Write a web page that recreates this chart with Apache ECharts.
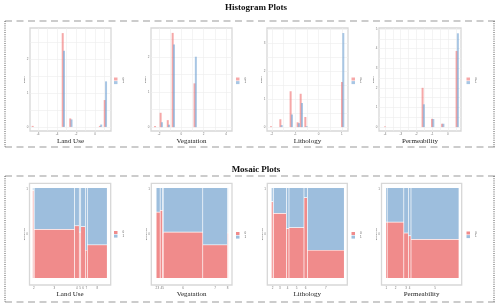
<!DOCTYPE html>
<html><head><meta charset="utf-8">
<script src="https://cdn.jsdelivr.net/npm/echarts@6/dist/echarts.min.js"></script>
<style>html,body{margin:0;padding:0;background:#fff}#c{width:500px;height:307px}</style>
</head><body><div id="c"></div>
<script>
// ---------------- data ----------------
const varNames = ['Land Use', 'Vegatation', 'Lithology', 'Permeability'];
const classNames = ['0', '1'];

// histogram (density) values
const luX = [-6.49, -3.33, -2.54, 0.58, 1.09];
const luRed = [0.03, 2.76, 0.25, 0.03, 0.79];
const luBlue = [0, 2.24, 0.22, 0.07, 1.34];
const vegX = [-2.30, -1.80, -1.16, -0.72, 1.24];
const vegRed = [0.03, 0.41, 0.20, 2.69, 1.25];
const vegBlue = [0, 0.14, 0.07, 2.36, 2.01];
const litX = [-2.01, -1.61, -1.17, -0.87, -0.74, -0.54, 1.03];
const litRed = [0.03, 0.28, 1.28, 0.17, 1.19, 0.36, 1.61];
const litBlue = [0, 0.07, 0.45, 0.14, 0.86, 0.03, 3.36];
const perX = [-3.96, -1.57, -0.97, -0.33, 0.59];
const perRed = [0.03, 2.0, 0.42, 0.17, 3.88];
const perBlue = [0, 1.16, 0.41, 0.17, 4.78];

// histogram tick labels (major) and minor grid values
const luXTicks = [-6, -4, -2, 0];     const luXMinor = [-5, -3, -1, 1];
const vegXTicks = [-2, 0, 2, 4];     const vegXMinor = [-1, 1, 3];
const litXTicks = [-2, -1, 0, 1];    const litXMinor = [-1.5, -0.5, 0.5];
const perXTicks = [-4, -3, -2, -1, 0]; const perXMinor = [-3.5, -2.5, -1.5, -0.5, 0.5];
const luYTicks = [0, 1, 2];          const luYMinor = [0.5, 1.5, 2.5];
const vegYTicks = [0, 1, 2];         const vegYMinor = [0.5, 1.5, 2.5];
const litYTicks = [0, 1, 2, 3];      const litYMinor = [0.5, 1.5, 2.5, 3.5];
const perYTicks = [0, 1, 2, 3, 4, 5]; const perYMinor = [0.5, 1.5, 2.5, 3.5, 4.5];

// mosaic: category labels, column weights, share of class 0
const mLuCats = ['1', '2', '3', '4', '5', '6', '7', '8'];
const mLuW = [0.8, 0.9, 40, 4.8, 1.4, 4.6, 2, 19.8];
const mLuRed = [0.97, 0.97, 0.54, 0.58, 0.51, 0.57, 0.31, 0.37];
const mVegCats = ['1', '2', '3', '4', '5', '6', '7', '8'];
const mVegW = [0.5, 0.5, 3.5, 2.4, 0.8, 39, 24.5, 0.5];
const mVegRed = [0.73, 0.73, 0.73, 0.75, 0.5, 0.51, 0.37, 0.5];
const mLitCats = ['1', '2', '3', '4', '5', '6', '7'];
const mLitW = [0.9, 1.5, 13, 2.6, 15, 3.4, 36.9];
const mLitRed = [0.845, 0.845, 0.717, 0.55, 0.56, 0.89, 0.31];
const mPerCats = ['1', '2', '3', '4', '5'];
const mPerW = [1.5, 16.6, 4.6, 2.6, 48];
const mPerRed = [0.62, 0.62, 0.50, 0.47, 0.43];
const mYTicks = [0.49, 0.985];
const mYLabels = ['0', '1'];

// ---------------- layout / style ----------------
const HR = 'rgba(240,110,110,0.6)', HB = 'rgba(110,160,210,0.6)';
const MR = '#f08b8b', MB = '#9dbedd';
const SERIF = 'Liberation Serif';
const GRIDC = '#ececec';

const hists = [
  { x: luX, r: luRed, b: luBlue, xt: luXTicks, xm: luXMinor, yt: luYTicks, ym: luYMinor, xr: [-6.84, 1.68], yr: [-0.12, 2.91], px: [30, 111], leg: [114, 77.5] },
  { x: vegX, r: vegRed, b: vegBlue, xt: vegXTicks, xm: vegXMinor, yt: vegYTicks, ym: vegYMinor, xr: [-2.72, 4.54], yr: [-0.11, 2.83], px: [151, 232], leg: [236, 77.5] },
  { x: litX, r: litRed, b: litBlue, xt: litXTicks, xm: litXMinor, yt: litYTicks, ym: litYMinor, xr: [-2.21, 1.26], yr: [-0.14, 3.54], px: [267, 348], leg: [351.5, 77.5] },
  { x: perX, r: perRed, b: perBlue, xt: perXTicks, xm: perXMinor, yt: perYTicks, ym: perYMinor, xr: [-4.38, 0.83], yr: [-0.2, 5.05], px: [379, 461], leg: [466.5, 77.5] }
];
const mosaics = [
  { cats: mLuCats, w: mLuW, r: mLuRed, xr: [-0.040, 1.046], px: [29.5, 110.7], leg: [114, 231] },
  { cats: mVegCats, w: mVegW, r: mVegRed, xr: [-0.060, 1.056], px: [151.3, 232], leg: [236, 232] },
  { cats: mLitCats, w: mLitW, r: mLitRed, xr: [-0.050, 1.041], px: [267.3, 347.3], leg: [351.5, 232] },
  { cats: mPerCats, w: mPerW, r: mPerRed, xr: [-0.057, 1.037], px: [381.5, 461.7], leg: [466.5, 231.5] }
];

const grids = [], xAxes = [], yAxes = [], series = [], legends = [];

hists.forEach((h, i) => {
  grids.push({ left: h.px[0], top: 28, width: h.px[1] - h.px[0], height: 103, show: true,
    borderColor: '#d7d7d7', borderWidth: 1.3, backgroundColor: '#fff', containLabel: false, outerBoundsMode: 'none' });
  xAxes.push({ type: 'value', gridIndex: i, min: h.xr[0], max: h.xr[1],
    name: varNames[i], nameLocation: 'middle', nameGap: 6.5, nameMoveOverlap: false,
    nameTextStyle: { fontFamily: SERIF, fontSize: 7, color: '#222' },
    axisLine: { show: false }, axisTick: { show: false, customValues: h.xt.concat(h.xm) },
    axisLabel: { customValues: h.xt, fontSize: 3, color: '#777', margin: 1.5, hideOverlap: false },
    splitLine: { show: true, lineStyle: { color: GRIDC, width: 0.6 } } });
  yAxes.push({ type: 'value', gridIndex: i, min: h.yr[0], max: h.yr[1],
    name: 'density', nameLocation: 'middle', nameGap: 4, nameMoveOverlap: false,
    nameTextStyle: { fontFamily: SERIF, fontSize: 2.5, color: '#444' },
    axisLine: { show: false }, axisTick: { show: false, customValues: h.yt.concat(h.ym) },
    axisLabel: { customValues: h.yt, fontSize: 3, color: '#777', margin: 1.5, hideOverlap: false },
    splitLine: { show: true, lineStyle: { color: GRIDC, width: 0.6 } } });
  series.push({ type: 'bar', name: classNames[0], xAxisIndex: i, yAxisIndex: i, barWidth: 2, barGap: '-35%',
    itemStyle: { color: HR }, data: h.x.map((x, k) => [x, h.r[k]]) });
  series.push({ type: 'bar', name: classNames[1], xAxisIndex: i, yAxisIndex: i, barWidth: 2, barGap: '-35%',
    itemStyle: { color: HB }, data: h.x.map((x, k) => [x, h.b[k]]) });
  legends.push({ data: classNames, left: h.leg[0], top: h.leg[1] });
});

function tileRender(params, api) {
  const p0 = api.coord([api.value(0), api.value(2)]);
  const p1 = api.coord([api.value(1), api.value(3)]);
  const g = 0.35;
  return { type: 'rect',
    shape: { x: p0[0] + g, y: p1[1] + g, width: Math.max(p1[0] - p0[0] - 2 * g, 0.3), height: Math.max(p0[1] - p1[1] - 2 * g, 0) },
    style: { fill: api.visual('color') } };
}

mosaics.forEach((m, j) => {
  const i = j + 4;
  const total = m.w.reduce((a, b) => a + b, 0);
  let cum = 0;
  const redData = [], blueData = [], centers = [];
  m.w.forEach((w, k) => {
    const x0 = cum / total, x1 = (cum + w) / total;
    cum += w;
    centers.push((x0 + x1) / 2);
    redData.push([x0, x1, 0, m.r[k]]);
    blueData.push([x0, x1, m.r[k], 1]);
  });
  const catOf = v => { let best = 0; centers.forEach((c, k) => { if (Math.abs(c - v) < Math.abs(centers[best] - v)) best = k; }); return m.cats[best]; };
  grids.push({ left: m.px[0], top: 183.3, width: m.px[1] - m.px[0], height: 101.7, show: true,
    borderColor: '#d7d7d7', borderWidth: 1.3, backgroundColor: '#fff', containLabel: false, outerBoundsMode: 'none' });
  xAxes.push({ type: 'value', gridIndex: i, min: m.xr[0], max: m.xr[1],
    name: varNames[j], nameLocation: 'middle', nameGap: 6, nameMoveOverlap: false,
    nameTextStyle: { fontFamily: SERIF, fontSize: 7, color: '#222' },
    axisLine: { show: false }, axisTick: { show: false, customValues: centers },
    axisLabel: { customValues: centers, fontSize: 3, color: '#777', margin: 1.5, hideOverlap: false, formatter: catOf },
    splitLine: { show: false } });
  yAxes.push({ type: 'value', gridIndex: i, min: -0.073, max: 1.048,
    name: 'Regeneration', nameLocation: 'middle', nameGap: 4, nameMoveOverlap: false,
    nameTextStyle: { fontFamily: SERIF, fontSize: 2.3, color: '#444' },
    axisLine: { show: false }, axisTick: { show: false, customValues: mYTicks },
    axisLabel: { customValues: mYTicks, fontSize: 3, color: '#777', margin: 1.5, hideOverlap: false,
      formatter: v => (v > 0.7 ? mYLabels[1] : mYLabels[0]) },
    splitLine: { show: false } });
  series.push({ type: 'custom', name: 'm' + classNames[0], xAxisIndex: i, yAxisIndex: i, renderItem: tileRender,
    itemStyle: { color: MR }, encode: { x: [0, 1], y: [2, 3] }, data: redData });
  series.push({ type: 'custom', name: 'm' + classNames[1], xAxisIndex: i, yAxisIndex: i, renderItem: tileRender,
    itemStyle: { color: MB }, encode: { x: [0, 1], y: [2, 3] }, data: blueData });
  legends.push({ data: classNames.map(c => 'm' + c), left: m.leg[0], top: m.leg[1] });
});

const legendOpts = legends.map(l => Object.assign({
  orient: 'vertical', itemWidth: 3.5, itemHeight: 3, itemGap: 0.6, padding: 0, icon: 'rect',
  selectedMode: false, textStyle: { fontSize: 3, color: '#555' }, formatter: n => n.replace('m', '')
}, l));

const dash = { stroke: '#9a9a9a', lineWidth: 1.2, lineDash: [7, 4.5], fill: null };
const dot = { stroke: '#555', lineWidth: 1, lineDash: [1, 1.2], fill: null };
function frame(y0, y1) {
  return [
    { type: 'line', silent: true, shape: { x1: 5, y1: y0, x2: 495, y2: y0 }, style: dash },
    { type: 'line', silent: true, shape: { x1: 5, y1: y1, x2: 495, y2: y1 }, style: dash },
    { type: 'line', silent: true, shape: { x1: 5, y1: y0, x2: 5, y2: y1 }, style: dot },
    { type: 'line', silent: true, shape: { x1: 494, y1: y0, x2: 494, y2: y1 }, style: dot }
  ];
}
const graphics = frame(21, 147).concat(frame(176, 302)).concat([
  { type: 'text', x: 256, y: 8, silent: true, style: { text: 'Histogram Plots', font: 'bold 9px "Liberation Serif"', fill: '#111', align: 'center', verticalAlign: 'middle' } },
  { type: 'text', x: 256, y: 170, silent: true, style: { text: 'Mosaic Plots', font: 'bold 9px "Liberation Serif"', fill: '#111', align: 'center', verticalAlign: 'middle' } }
]);

const chart = echarts.init(document.getElementById('c'), null, { renderer: 'canvas', width: 500, height: 307 });
chart.setOption({
  animation: false,
  backgroundColor: '#fff',
  grid: grids, xAxis: xAxes, yAxis: yAxes, series: series, legend: legendOpts,
  graphic: graphics
});
</script>
</body></html>
